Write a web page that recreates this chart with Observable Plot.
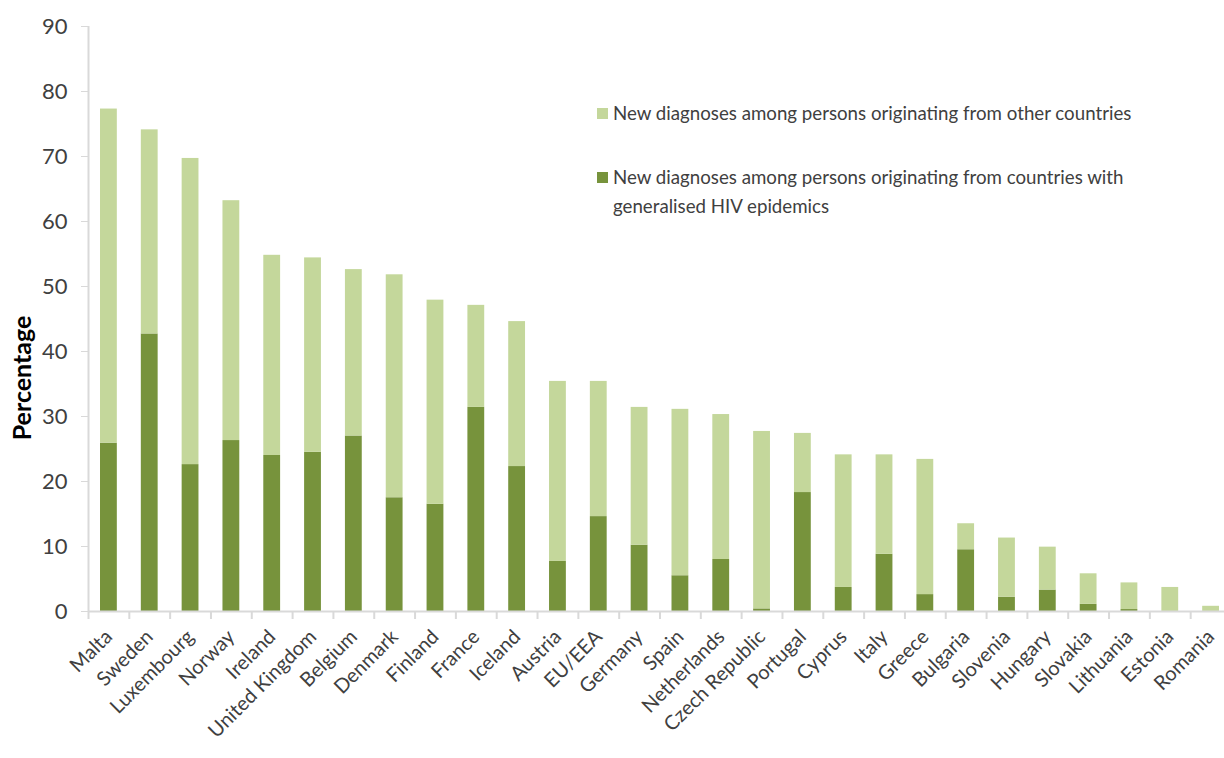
<!DOCTYPE html>
<html>
<head>
<meta charset="utf-8">
<script src="https://cdn.jsdelivr.net/npm/d3@7"></script>
<script src="https://cdn.jsdelivr.net/npm/@observablehq/plot@0.6"></script>
<style>
  body { margin: 0; background: #fff; font-family: Lato, "Open Sans", sans-serif; }
  #wrap { position: relative; width: 1224px; height: 758px; overflow: hidden; }
  #wrap svg { position: absolute; left: 0; top: 0; }
  .legend { position: absolute; left: 597px; color: #404040; font-size: 18.7px; line-height: 29px; }
  .legend .item { position: relative; padding-left: 16px; }
  .legend .sw { position: absolute; left: 0; top: 9px; width: 11px; height: 11px; }
  .ylabel { position: absolute; left: 21px; top: 378px; transform: translate(-50%, -50%) rotate(-90deg);
            font-weight: 700; font-size: 25px; color: #000; white-space: nowrap; }
</style>
</head>
<body>
<div id="wrap"></div>
<script>
const countries = ["Malta","Sweden","Luxembourg","Norway","Ireland","United Kingdom","Belgium","Denmark",
  "Finland","France","Iceland","Austria","EU/EEA","Germany","Spain","Netherlands","Czech Republic",
  "Portugal","Cyprus","Italy","Greece","Bulgaria","Slovenia","Hungary","Slovakia","Lithuania","Estonia","Romania"];
const generalised = [25.9,42.7,22.6,26.3,24.0,24.5,27.0,17.5,16.5,31.4,22.3,7.7,14.6,10.2,5.5,8.0,0.4,
  18.3,3.7,8.8,2.6,9.5,2.2,3.3,1.1,0.3,0.0,0.0];
const otherCountries = [51.4,31.4,47.1,36.9,30.8,29.9,25.6,34.3,31.4,15.7,22.3,27.7,20.8,21.2,25.6,22.3,27.3,
  9.1,20.4,15.3,20.8,4.0,9.1,6.6,4.7,4.1,3.7,0.8];
const seriesNames = [
  "New diagnoses among persons originating from countries with generalised HIV epidemics",
  "New diagnoses among persons originating from other countries"
];
const seriesColors = ["#77933c", "#c4d79b"];
const yTicks = [0,10,20,30,40,50,60,70,80,90];

const rows = [];
countries.forEach((c, i) => {
  rows.push({country: c, series: seriesNames[0], value: generalised[i]});
  rows.push({country: c, series: seriesNames[1], value: otherCountries[i]});
});

const xRange = [88, 1231];
const step = (xRange[1] - xRange[0]) / countries.length;
const grey = "#d9d9d9";

const chart = Plot.plot({
  width: 1224,
  height: 758,
  marginTop: 26,
  marginBottom: 147,
  marginLeft: 88,
  marginRight: 0,
  style: {fontFamily: "Lato, 'Open Sans', sans-serif", background: "transparent", overflow: "visible"},
  x: {type: "band", domain: countries, range: xRange, padding: 0, round: false},
  y: {domain: [0, 90], label: null},
  color: {domain: seriesNames, range: seriesColors},
  marks: [
    Plot.barY(rows, Plot.stackY({order: seriesNames, x: "country", y: "value", fill: "series",
      insetLeft: 12, insetRight: 12})),
    Plot.ruleY([0], {stroke: grey, strokeWidth: 2}),
    Plot.ruleX([countries[0]], {x: d => d, dx: -step / 2, y1: 0, y2: 90, stroke: grey, strokeWidth: 2}),
    Plot.ruleX(countries, {x: d => d, dx: -step / 2, y1: 0, y2: 0, insetBottom: -8, stroke: grey, strokeWidth: 2}),
    Plot.axisY({ticks: yTicks, tickSize: 7, tickPadding: 14, stroke: grey, fill: "#404040", fontSize: 22, label: null}),
    Plot.axisX({tickSize: 0, tickRotate: -45, tickPadding: 22, fill: "#404040", fontSize: 20, label: null})
  ]
});

const wrap = document.getElementById("wrap");
wrap.appendChild(chart);

const legend = document.createElement("div");
legend.className = "legend";
legend.style.top = "99px";
legend.innerHTML = `
  <div class="item"><span class="sw" style="background:${seriesColors[1]}"></span>${seriesNames[1]}</div>
  <div class="item" style="margin-top:35px"><span class="sw" style="background:${seriesColors[0]}"></span>New diagnoses among persons originating from countries with<br>generalised HIV epidemics</div>`;
wrap.appendChild(legend);

const yl = document.createElement("div");
yl.className = "ylabel";
yl.textContent = "Percentage";
wrap.appendChild(yl);
</script>
</body>
</html>
